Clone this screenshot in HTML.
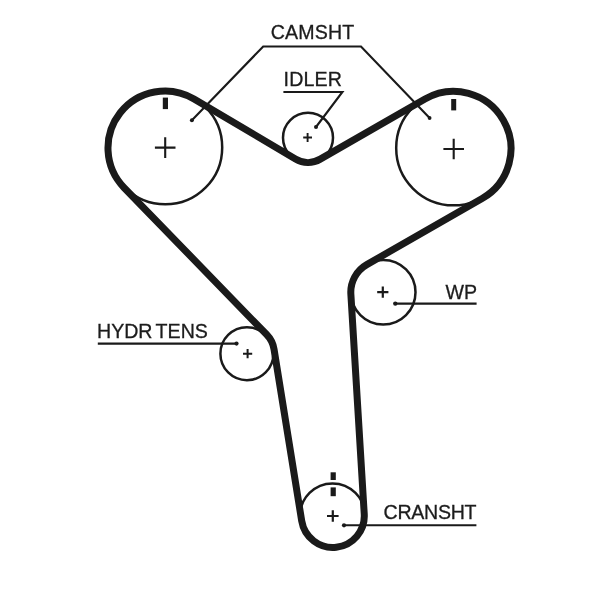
<!DOCTYPE html>
<html><head><meta charset="utf-8"><title>Timing belt</title>
<style>html,body{margin:0;padding:0;background:#fff}svg{display:block}text{font-family:"Liberation Sans",Arial,sans-serif;font-size:19.6px;fill:#1c1c1c;stroke:#1c1c1c;stroke-width:.3px}</style>
</head><body>
<svg width="600" height="589" viewBox="0 0 600 589">
<defs><filter id="g" x="0" y="0" width="600" height="589" filterUnits="userSpaceOnUse" color-interpolation-filters="sRGB"><feGaussianBlur stdDeviation="0.4"/></filter></defs>
<rect width="600" height="589" fill="#fff"/>
<g filter="url(#g)">
<g fill="none" stroke="#1a1a1a" stroke-width="2.5"><circle cx="165.3" cy="147.4" r="56.9"/><circle cx="308" cy="137.8" r="25.0"/><circle cx="453.5" cy="148" r="57.3"/><circle cx="383.2" cy="292.2" r="32.3"/><circle cx="332.5" cy="515.9" r="32.5"/><circle cx="246.9" cy="353.7" r="26.5"/></g>
<path d="M194.03 98.94L295.47 158.97A24.6 24.6 0 0 0 320.26 159.13L425.00 98.93A57.4 57.4 0 1 1 482.14 198.50L366.79 264.61A31.8 31.8 0 0 0 350.86 294.13L364.24 513.99A31.5 31.5 0 0 1 301.70 520.91L274.05 349.32A27.5 27.5 0 0 0 266.63 334.55L124.10 187.70A57.0 57.0 0 0 1 194.03 98.94Z" fill="none" stroke="#1a1a1a" stroke-width="7" stroke-linejoin="round"/>
<g fill="none" stroke="#1a1a1a" stroke-width="2.1" stroke-linecap="butt" stroke-linejoin="miter">
<path d="M191.9 120.3L263.2 46.5H361L429.6 118"/>
<path d="M283.4 92H342.4L316 127"/>
<path d="M97.8 343.6H236.5"/>
<path d="M395.3 303.6H476.6"/>
<path d="M344 525.3H476.4"/>
</g>
<g fill="#1a1a1a">
<circle cx="191.9" cy="120.3" r="2"/><circle cx="429.6" cy="118" r="1.9"/><circle cx="316" cy="127" r="2"/>
<circle cx="236.5" cy="343.6" r="2.1"/><circle cx="395.3" cy="303.6" r="2.2"/><circle cx="344" cy="525.3" r="2.1"/>
<rect x="162.8" y="97.6" width="5.2" height="11.5"/>
<rect x="451.2" y="99" width="5" height="11.4"/>
<rect x="330.6" y="472.3" width="5.2" height="7.7"/>
<rect x="330.6" y="487.4" width="5.2" height="8.8"/>
</g>
<g stroke="#1a1a1a" fill="none">
<path d="M154.89999999999998 147.6H175.5M165.2 137.29999999999998V157.9" stroke-width="2.1"/>
<path d="M443.4 149H464.0M453.7 138.7V159.3" stroke-width="2.1"/>
<path d="M303.20000000000005 137.5H312.0M307.6 133.1V141.9" stroke-width="1.9"/>
<path d="M377.2 292.1H388.40000000000003M382.8 286.5V297.70000000000005" stroke-width="2.2"/>
<path d="M243.0 353.7H252.2M247.6 349.09999999999997V358.3" stroke-width="2"/>
<path d="M327.0 516H338.6M332.8 510.2V521.8" stroke-width="2.2"/>
</g>
<text x="270.8" y="39.1" letter-spacing="0.15">CAMSHT</text>
<text x="283.6" y="86.1" letter-spacing="0.15">IDLER</text>
<text x="97" y="337.5" word-spacing="-2">HYDR TENS</text>
<text x="445.6" y="298.6">WP</text>
<text x="383.6" y="518.6" letter-spacing="-0.3">CRANSHT</text>
</g>
</svg>
</body></html>
